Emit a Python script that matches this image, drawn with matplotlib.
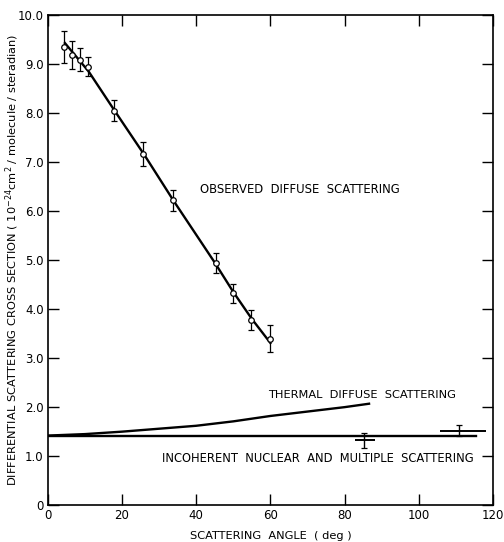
import matplotlib.pyplot as plt
import matplotlib
matplotlib.rcParams['font.family'] = 'DejaVu Sans'
matplotlib.rcParams['font.size'] = 8

# observed diffuse scattering points
obs_angle = [4.4, 6.6, 8.6, 10.7, 17.8, 25.7, 33.7, 45.2, 49.9, 54.8, 59.9]
obs_value = [9.35, 9.19, 9.09, 8.95, 8.05, 7.17, 6.22, 4.94, 4.32, 3.78, 3.40]
obs_err = [0.33, 0.28, 0.23, 0.20, 0.22, 0.25, 0.22, 0.21, 0.20, 0.21, 0.28]

# fitted line through observed points
fit_angle = [4.6, 11, 18, 26, 34, 45, 50, 55, 60]
fit_value = [9.43, 8.85, 8.05, 7.15, 6.2, 4.95, 4.35, 3.8, 3.31]

# thermal diffuse scattering curve
thermal_angle = [0, 10, 20, 30, 40, 50, 60, 70, 80, 86.6]
thermal_value = [1.42, 1.45, 1.50, 1.56, 1.62, 1.71, 1.82, 1.91, 2.00, 2.07]

# incoherent nuclear and multiple scattering level
incoh_angle = [0, 115.4]
incoh_value = [1.42, 1.42]

# large-angle measurements with horizontal spread
wide_angle = [85.3, 110.8]
wide_value = [1.32, 1.52]
wide_yerr = [0.15, 0.11]
wide_xerr_lo = [2.4, 5.2]
wide_xerr_hi = [3.0, 7.3]

xticks = [0, 20, 40, 60, 80, 100, 120]
yticks = [0, 1, 2, 3, 4, 5, 6, 7, 8, 9, 10]
yticklabels = ['0', '1.0', '2.0', '3.0', '4.0', '5.0', '6.0', '7.0', '8.0', '9.0', '10.0']

fig = plt.figure(figsize=(5.04, 5.42), dpi=100)
ax = fig.add_axes([0.095, 0.068, 0.883, 0.904])

ax.plot(fit_angle, fit_value, color='black', lw=1.7)
ax.errorbar(obs_angle, obs_value, yerr=obs_err, fmt='o', ms=4, mfc='white',
            mec='black', mew=0.9, ecolor='black', elinewidth=0.9, capsize=2, capthick=0.9, zorder=3)
ax.plot(thermal_angle, thermal_value, color='black', lw=1.7)
ax.plot(incoh_angle, incoh_value, color='black', lw=1.7)
ax.errorbar(wide_angle, wide_value, yerr=wide_yerr,
            fmt='none', ecolor='black', elinewidth=1.0, capsize=2, capthick=0.9)
ax.errorbar(wide_angle, wide_value, xerr=[wide_xerr_lo, wide_xerr_hi],
            fmt='none', ecolor='black', elinewidth=1.4, capsize=0)

ax.text(41, 6.45, 'OBSERVED  DIFFUSE  SCATTERING', fontsize=8.4, va='center')
ax.text(59.5, 2.25, 'THERMAL  DIFFUSE  SCATTERING', fontsize=8.2, va='center')
ax.text(30.7, 0.95, 'INCOHERENT  NUCLEAR  AND  MULTIPLE  SCATTERING', fontsize=8.3, va='center')

ax.set_xlim(0, 120)
ax.set_ylim(0, 10)
ax.set_xticks(xticks)
ax.set_yticks(yticks)
ax.set_yticklabels(yticklabels)
ax.tick_params(direction='in', length=8, width=1, top=True, right=True, pad=3, labelsize=8.5)
for s in ax.spines.values():
    s.set_linewidth(1.2)

ax.set_xlabel('SCATTERING  ANGLE  ( deg )', fontsize=8.2, labelpad=6)
ax.set_ylabel(r'DIFFERENTIAL SCATTERING CROSS SECTION ( $10^{-24}$cm$^2$ / molecule / steradian)',
              fontsize=8.2)
ax.yaxis.set_label_coords(-0.06, 0.5)

plt.savefig('out.png')
